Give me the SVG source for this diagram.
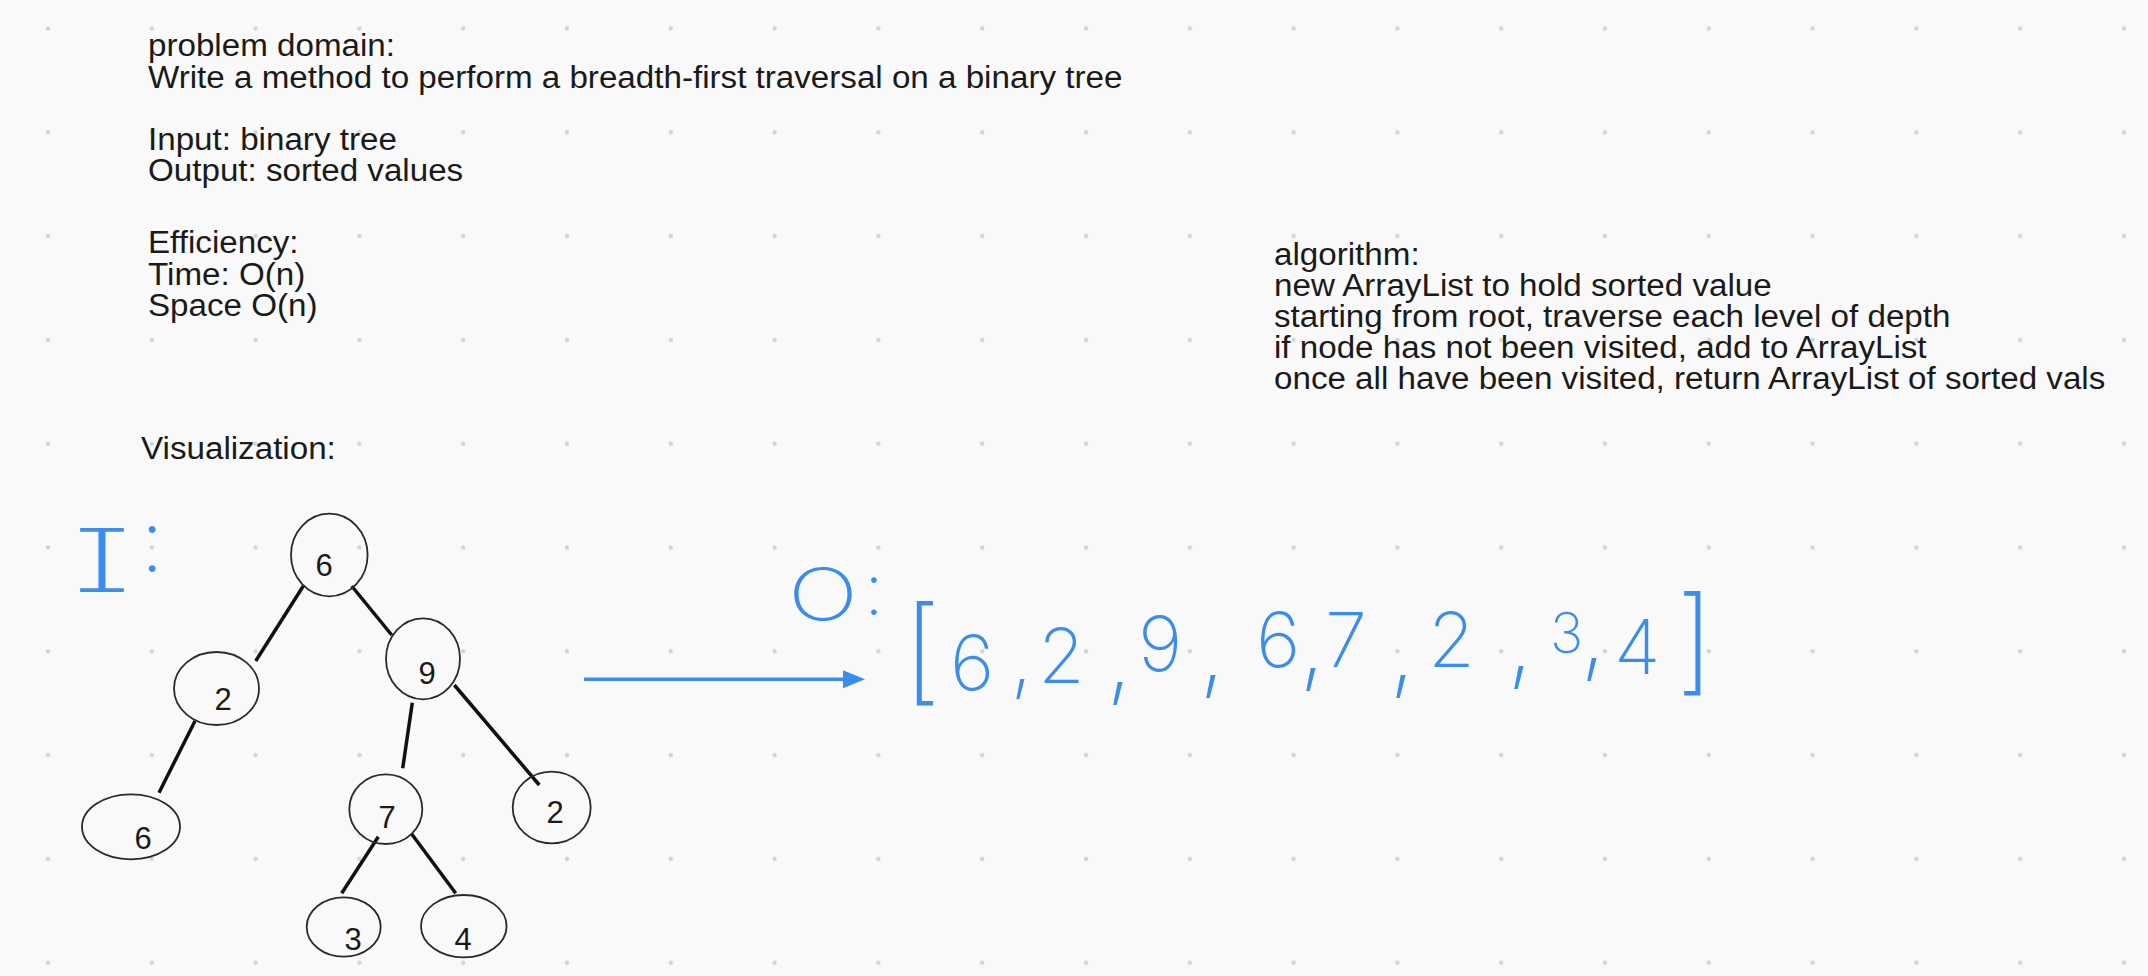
<svg xmlns="http://www.w3.org/2000/svg" width="2148" height="976" viewBox="0 0 2148 976">
<style>
.txt{font-family:"Liberation Sans",Arial,Helvetica,sans-serif;font-size:31px;fill:#1a1a1a}
.node ellipse{fill:none;stroke:#2a2a2a;stroke-width:1.8}
.node text{font-family:"Liberation Sans",Arial,sans-serif;font-size:31px;fill:#1a1a1a;text-anchor:middle}
.edge{stroke:#111;stroke-width:3.5;stroke-linecap:butt}
.hand{font-family:Inter,"DejaVu Sans","Liberation Sans",sans-serif;font-weight:200;fill:#3b8ded}
.cm{font-size:96px}
.blue{stroke:#3b8ded;stroke-width:3.5;fill:none}
</style>
<defs>
<pattern id="dots" x="-3.9" y="-23.4" width="103.8" height="103.8" patternUnits="userSpaceOnUse">
<circle cx="51.9" cy="51.9" r="2.2" fill="#d4d4d4"/>
</pattern>
<marker id="head" markerUnits="userSpaceOnUse" markerWidth="26" markerHeight="20" refX="2" refY="9" orient="auto">
<path d="M0,0 L22,9 L0,18 z" fill="#3b8ded"/>
</marker>
</defs>
<rect width="2148" height="976" fill="#f9f9f9"/>
<rect width="2148" height="976" fill="url(#dots)"/>

<g id="problem-text" class="txt" transform="translate(148,0) scale(1.07,1) translate(-148,0)">
<text x="148" y="56">problem domain:</text>
<text x="148" y="88.5">Write a method to perform a breadth-first traversal on a binary tree</text>
<text x="148" y="150">Input: binary tree</text>
<text x="148" y="181">Output: sorted values</text>
<text x="148" y="253.5">Efficiency:</text>
<text x="148" y="285">Time: O(n)</text>
<text x="148" y="316">Space O(n)</text>
<text x="141.5" y="459">Visualization:</text>
</g>

<g id="algorithm-text" class="txt" transform="translate(1274,0) scale(1.07,1) translate(-1274,0)">
<text x="1274" y="265">algorithm:</text>
<text x="1274" y="296">new ArrayList to hold sorted value</text>
<text x="1274" y="327">starting from root, traverse each level of depth</text>
<text x="1274" y="358">if node has not been visited, add to ArrayList</text>
<text x="1274" y="389">once all have been visited, return ArrayList of sorted vals</text>
</g>

<g id="connectors">
<line class="edge" x1="303.3" y1="586" x2="255.7" y2="661"/>
<line class="edge" x1="351.7" y1="586" x2="391.7" y2="635"/>
<line class="edge" x1="195" y1="721" x2="159" y2="792.7"/>
<line class="edge" x1="412.3" y1="702.7" x2="402.7" y2="768.3"/>
<line class="edge" x1="454.3" y1="685" x2="539.3" y2="785"/>
<line class="edge" x1="378.3" y1="836.7" x2="341.7" y2="893.3"/>
<line class="edge" x1="411.7" y1="834" x2="455.7" y2="893.3"/>
<line class="blue" x1="584" y1="679.3" x2="845" y2="679.3" marker-end="url(#head)"/>
</g>

<g id="node-root" class="node"><ellipse cx="329.3" cy="555" rx="38.3" ry="41.3"/><text x="324" y="576">6</text></g>
<g id="node-2-left" class="node"><ellipse cx="216.5" cy="688.5" rx="42.5" ry="36.5"/><text x="223" y="710">2</text></g>
<g id="node-9" class="node"><ellipse cx="423" cy="658.8" rx="37" ry="40.5"/><text x="427" y="684">9</text></g>
<g id="node-6-leaf" class="node"><ellipse cx="131" cy="826.8" rx="49" ry="32.5"/><text x="143" y="849">6</text></g>
<g id="node-7" class="node"><ellipse cx="385.8" cy="809.2" rx="36.5" ry="34.8"/><text x="387" y="828">7</text></g>
<g id="node-2-right" class="node"><ellipse cx="551.7" cy="807.5" rx="39" ry="35.8"/><text x="555" y="823">2</text></g>
<g id="node-3" class="node"><ellipse cx="343.7" cy="927" rx="37" ry="29.7"/><text x="353" y="950">3</text></g>
<g id="node-4" class="node"><ellipse cx="463.8" cy="926.2" rx="42.8" ry="31.2"/><text x="463" y="950">4</text></g>

<g id="label-input">
<text class="hand" font-size="88" style="font-feature-settings:'cv08'"><tspan x="72" y="592" textLength="60" lengthAdjust="spacingAndGlyphs">I</tspan><tspan x="140" y="572">:</tspan></text>
</g>
<g id="label-output">
<text class="hand" font-size="72"><tspan x="788" y="620" textLength="70" lengthAdjust="spacingAndGlyphs">O</tspan><tspan x="864" y="615">:</tspan></text>
</g>
<g id="output-list">
<text class="hand" font-size="76"><tspan x="903" y="690" font-size="115">[</tspan><tspan x="950" y="690">6</tspan><tspan x="1010" y="686" font-size="84">,</tspan><tspan x="1038" y="683">2</tspan><tspan class="cm" x="1106" y="690">,</tspan><tspan x="1138" y="671">9</tspan><tspan class="cm" x="1199" y="683">,</tspan><tspan x="1256" y="667">6</tspan><tspan class="cm" x="1299" y="676">,</tspan><tspan x="1325" y="667">7</tspan><tspan class="cm" x="1389" y="683">,</tspan><tspan x="1428" y="667">2</tspan><tspan class="cm" x="1507" y="674">,</tspan><tspan x="1550" y="653" font-size="56">3</tspan><tspan class="cm" x="1580" y="666">,</tspan><tspan x="1614" y="674">4</tspan><tspan x="1676" y="680" font-size="115">]</tspan></text>
</g>
</svg>
